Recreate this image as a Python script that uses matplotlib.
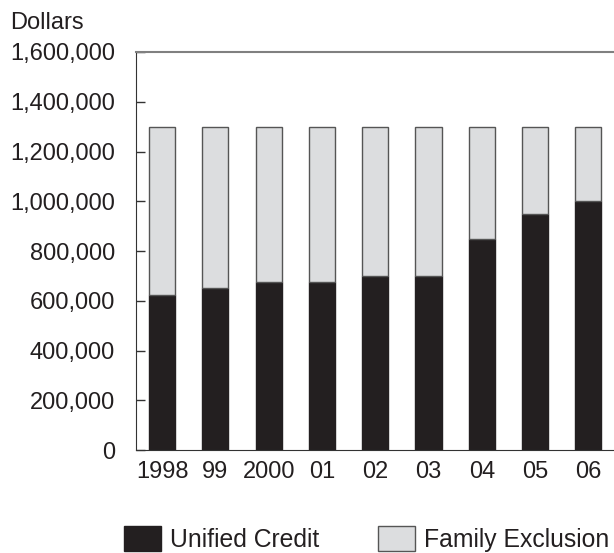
import matplotlib.pyplot as plt
from matplotlib.ticker import FuncFormatter

# 各年度数据（美元）
years = ["1998", "99", "2000", "01", "02", "03", "04", "05", "06"]
unified_credit = [625000, 650000, 675000, 675000, 700000, 700000, 850000, 950000, 1000000]
family_exclusion = [675000, 650000, 625000, 625000, 600000, 600000, 450000, 350000, 300000]

DARK = "#231f20"
LIGHT = "#dcdddf"

plt.rcParams["font.family"] = ["Liberation Sans", "DejaVu Sans"]

fig = plt.figure(figsize=(6.14, 5.53), dpi=100)
ax = fig.add_axes([0.2215, 0.186, 0.7785, 0.72])

x = list(range(len(years)))
ax.bar(x, unified_credit, width=0.49, color=DARK, edgecolor=DARK, linewidth=1.0,
       label="Unified Credit")
ax.bar(x, family_exclusion, width=0.49, bottom=unified_credit, color=LIGHT,
       edgecolor="#555555", linewidth=1.0, label="Family Exclusion")

ax.set_xlim(-0.49, 8.48)
ax.set_ylim(0, 1600000)
ax.set_yticks(range(0, 1600001, 200000))
ax.yaxis.set_major_formatter(FuncFormatter(lambda v, p: f"{int(v):,}"))
ax.set_xticks(x)
ax.set_xticklabels(years)

ax.tick_params(axis="y", direction="in", length=6.5, width=1.0, color="#333333",
               pad=15, labelsize=17, labelcolor=DARK)
ax.tick_params(axis="x", length=0, pad=8, labelsize=17, labelcolor=DARK)

ax.spines["right"].set_visible(False)
ax.spines["top"].set_color("#808080")
ax.spines["top"].set_linewidth(1.5)
ax.spines["left"].set_color("#333333")
ax.spines["bottom"].set_color("#333333")

fig.text(0.016, 0.958, "Dollars", fontsize=17, color=DARK, va="center", ha="left")

# 图例：两列，放在图的底部
fig.legend(loc="lower left", bbox_to_anchor=(0.1656, -0.038), ncol=2, frameon=False,
           fontsize=17.8, handlelength=1.5, handleheight=1.21, handletextpad=0.38,
           columnspacing=2.35, labelcolor=DARK)

fig.savefig("out.png", dpi=100)
